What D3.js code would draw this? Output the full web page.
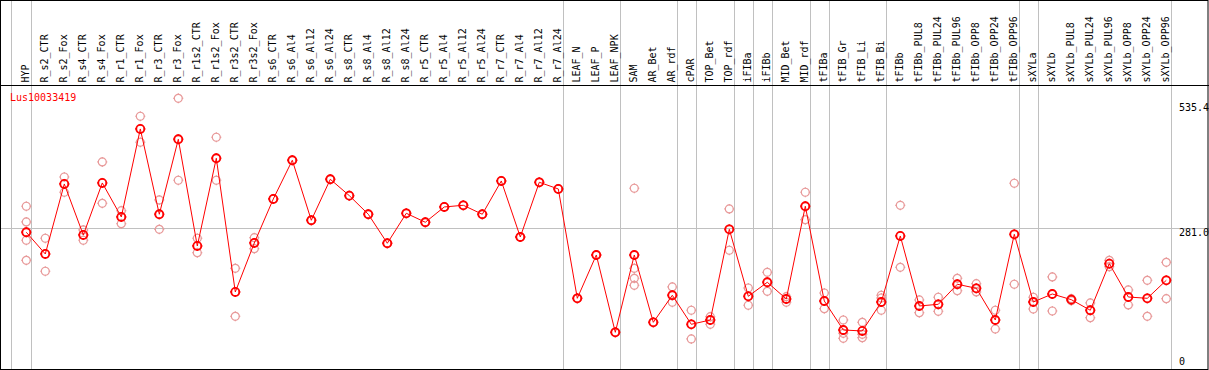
<!DOCTYPE html>
<html>
<head>
<meta charset="utf-8">
<script src="https://cdn.jsdelivr.net/npm/d3@7"></script>
<style>
  html, body { margin: 0; padding: 0; background: #fff; }
  svg { display: block; }
  text { font-family: "DejaVu Sans Mono", monospace; font-size: 10px; }
</style>
</head>
<body>
<div id="chart"></div>
<script>
const geneName = "Lus10033419";

const categories = [
  "HYP", "R_s2_CTR", "R_s2_Fox", "R_s4_CTR", "R_s4_Fox", "R_r1_CTR", "R_r1_Fox",
  "R_r3_CTR", "R_r3_Fox", "R_r1s2_CTR", "R_r1s2_Fox", "R_r3s2_CTR", "R_r3s2_Fox",
  "R_s6_CTR", "R_s6_Al4", "R_s6_Al12", "R_s6_Al24", "R_s8_CTR", "R_s8_Al4",
  "R_s8_Al12", "R_s8_Al24", "R_r5_CTR", "R_r5_Al4", "R_r5_Al12", "R_r5_Al24",
  "R_r7_CTR", "R_r7_Al4", "R_r7_Al12", "R_r7_Al24", "LEAF_N", "LEAF_P", "LEAF_NPK",
  "SAM", "AR_Bet", "AR_rdf", "cPAR", "TOP_Bet", "TOP_rdf", "iFIBa", "iFIBb",
  "MID_Bet", "MID_rdf", "tFIBa", "tFIB_Gr", "tFIB_Li", "tFIB_Bi", "tFIBb",
  "tFIBb_PUL8", "tFIBb_PUL24", "tFIBb_PUL96", "tFIBb_OPP8", "tFIBb_OPP24", "tFIBb_OPP96",
  "sXYLa", "sXYLb", "sXYLb_PUL8", "sXYLb_PUL24", "sXYLb_PUL96", "sXYLb_OPP8",
  "sXYLb_OPP24", "sXYLb_OPP96"
];

// mean expression per sample
const meanValues = [
  272.7, 230.1, 367.4, 267.4, 369.4, 302.7, 475.3,
  308.0, 455.1, 245.8, 417.8, 155.6, 251.7,
  338.0, 413.9, 296.2, 376.6, 344.5, 308.0,
  251.1, 309.9, 292.3, 322.3, 325.6, 308.0,
  373.3, 263.4, 370.7, 357.6, 143.2, 228.1, 76.5,
  228.1, 96.1, 149.1, 92.2, 100.6, 278.5, 147.1, 174.6,
  141.8, 323.7, 137.9, 81.0, 79.1, 135.9, 265.4,
  128.1, 131.4, 170.7, 162.8, 100.6, 268.7,
  135.9, 151.6, 140.5, 119.7, 211.1, 145.7,
  143.2, 178.5
];

// individual replicates per sample
const replicates = [
  [323.7, 292.9, 257.0, 217.7], [260.9, 196.2], [381.1, 351.1], [277.2, 257.0],
  [410.6, 329.5], [315.0, 289.5], [500.2, 449.2], [336.0, 278.5], [535.4, 374.7],
  [260.9, 232.6], [459.0, 374.7], [202.0, 107.9], [262.1, 240.5],
  [338.0], [413.9], [296.2], [376.6], [344.5], [308.0],
  [251.1], [309.9], [292.3], [322.3], [325.6], [308.0],
  [373.3], [263.4], [370.7], [357.6], [143.2], [228.1], [76.5],
  [359.0, 202.0, 182.4, 168.7], [96.1], [165.4, 135.4], [119.7, 63.4], [107.1, 92.2],
  [318.4, 237.4], [163.4, 129.5], [194.2, 156.9], [146.3, 135.4], [351.1, 297.4],
  [153.6, 122.8], [100.6, 74.5, 64.7], [96.1, 72.6, 65.9], [149.1, 143.8, 119.7],
  [325.6, 204.0], [139.9, 115.0], [145.2, 117.7], [182.4, 158.1], [171.8, 155.6],
  [119.7, 83.0], [368.8, 170.7], [145.2, 122.2], [185.0, 118.3], [142.4, 138.5],
  [134.0, 105.1], [217.7, 205.2], [159.5, 130.1], [178.5, 107.9], [213.8, 142.4]
];

// samples after which a group separator is drawn
const groupEnds = [
  "HYP", "R_r7_Al24", "LEAF_NPK", "AR_rdf", "cPAR", "TOP_rdf", "iFIBa", "iFIBb",
  "MID_rdf", "tFIBa", "tFIB_Bi", "tFIBb_OPP96", "sXYLa", "sXYLb_OPP96"
];

const yTickValues = [0, 281.0, 535.4];
const yGridValues = [281.0];

const width = 1209, height = 370;
const headerBottom = 85;

const svg = d3.select("#chart").append("svg")
  .attr("width", width)
  .attr("height", height);

const x = d3.scalePoint()
  .domain(categories)
  .range([26.3, 1166.3]);

const y = d3.scaleLinear()
  .domain([0, 535.4])
  .range([371.3, 98.3]);

const sepOffset = 4.4;

// separators (full height)
const seps = [x(categories[0]) - x.step() + sepOffset - 1].concat(groupEnds.map(d => x(d) + sepOffset));
svg.append("g")
  .selectAll("line")
  .data(seps)
  .join("line")
  .attr("x1", d => Math.round(d) + 0.5)
  .attr("x2", d => Math.round(d) + 0.5)
  .attr("y1", 0)
  .attr("y2", height)
  .attr("stroke", "#c0c0c0");

// horizontal gridline
svg.append("g")
  .selectAll("line")
  .data(yGridValues)
  .join("line")
  .attr("x1", 0)
  .attr("x2", width)
  .attr("y1", d => Math.round(y(d)) + 0.5)
  .attr("y2", d => Math.round(y(d)) + 0.5)
  .attr("stroke", "#c0c0c0");

// header line
svg.append("line")
  .attr("x1", 0).attr("x2", width)
  .attr("y1", headerBottom + 0.5).attr("y2", headerBottom + 0.5)
  .attr("stroke", "#000");

// column labels
svg.append("g")
  .selectAll("text")
  .data(categories)
  .join("text")
  .attr("transform", d => `translate(${Math.round(x(d)) + 3},82.5) rotate(-90)`)
  .attr("fill", "#000")
  .text(d => d);

// y labels on the right
svg.append("g")
  .selectAll("text")
  .data(yTickValues)
  .join("text")
  .attr("x", 1179)
  .attr("y", d => d === 0 ? y(d) - 6 : (d === 535.4 ? y(d) + 12.5 : y(d) + 8))
  .attr("fill", "#000")
  .text(d => d === 0 ? "0" : d.toFixed(1));

// gene name
svg.append("text")
  .attr("x", 10)
  .attr("y", 101)
  .attr("fill", "#ff0000")
  .text(geneName);

function marker(g, r) {
  g.append("circle").attr("r", r).attr("fill", "none");
  g.selectAll("line.tk")
    .data([0, 90, 180, 270])
    .join("line")
    .attr("class", "tk")
    .attr("x1", 0).attr("y1", -r + 0.5)
    .attr("x2", 0).attr("y2", -r - 1)
    .attr("transform", a => `rotate(${a})`);
}

// replicate markers
const repData = [];
categories.forEach((c, i) => replicates[i].forEach(v => repData.push({ c, v })));
svg.append("g")
  .attr("stroke", "#e89a9a")
  .attr("stroke-width", 1.2)
  .selectAll("g")
  .data(repData)
  .join("g")
  .attr("transform", d => `translate(${x(d.c)},${y(d.v)})`)
  .each(function () { marker(d3.select(this), 4); });

// mean line
const line = d3.line()
  .x((d, i) => x(categories[i]))
  .y(d => y(d));
svg.append("path")
  .datum(meanValues)
  .attr("d", line)
  .attr("fill", "none")
  .attr("stroke", "#ff0000")
  .attr("stroke-width", 1);

// mean markers
svg.append("g")
  .attr("stroke", "#ff0000")
  .attr("stroke-width", 1.8)
  .selectAll("g")
  .data(meanValues)
  .join("g")
  .attr("transform", (d, i) => `translate(${x(categories[i])},${y(d)})`)
  .each(function () { marker(d3.select(this), 4); });

// frame
svg.append("rect")
  .attr("x", 0.5).attr("y", 0.5)
  .attr("width", width - 1.5).attr("height", height - 1)
  .attr("fill", "none")
  .attr("stroke", "#000");
</script>
</body>
</html>
